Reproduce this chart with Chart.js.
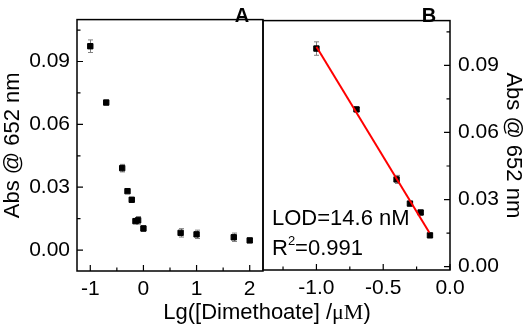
<!DOCTYPE html>
<html>
<head>
<meta charset="utf-8">
<script src="https://cdn.jsdelivr.net/npm/chart.js@4"></script>
<style>
  html, body { margin: 0; padding: 0; background: #fff; }
  #wrap { position: relative; width: 526px; height: 327px; }
  #wrap canvas { position: absolute; left: 0; top: 0; }
</style>
</head>
<body>
<div id="wrap">
  <canvas id="chartA" width="526" height="327"></canvas>
  <canvas id="chartB" width="526" height="327"></canvas>
</div>
<script>
// panel A: full range
const xA = [-1, -0.7, -0.4, -0.3, -0.22, -0.15, -0.1, 0, 0.7, 1, 1.7, 2];
const yA = [0.0973, 0.0704, 0.0391, 0.0281, 0.0240, 0.0138, 0.0142, 0.0103, 0.0082, 0.0075, 0.0061, 0.0046];
const errA = [0.003, 0.0008, 0.0018, 0.0008, 0.0008, 0.0012, 0.0018, 0.0013, 0.002, 0.002, 0.002, 0.001];

// panel B: linear range + fit
const xB = [-1, -0.7, -0.4, -0.3, -0.22, -0.15];
const yB = [0.0975, 0.0703, 0.0390, 0.0282, 0.0242, 0.0140];
const errB = [0.003, 0.0008, 0.0018, 0.0008, 0.0008, 0.0008];
const fitX = [-1, -0.155];
const fitY = [0.0983, 0.0153];

const xTicksA = [-1, 0, 1, 2];
const xMinorA = [-0.5, 0.5, 1.5];
const xTicksB = [-1, -0.5, 0];
const xMinorB = [-1.25, -0.75, -0.25];
const yTicks = [0, 0.03, 0.06, 0.09];
const yMinor = [0.015, 0.045, 0.075, 0.105];

Chart.defaults.font.family = "'Liberation Sans', Arial, sans-serif";
Chart.defaults.color = '#000';

const SANS = "'Liberation Sans', Arial, sans-serif";

function panelPlugin(p) {
  return {
    id: 'panel' + p.name,
    beforeDatasetsDraw(chart) {
      const ctx = chart.ctx, xs = chart.scales.x, ys = chart.scales.y;
      ctx.save();
      ctx.strokeStyle = '#808080';
      ctx.lineWidth = 1;
      p.xs.forEach((xv, i) => {
        const px = Math.round(xs.getPixelForValue(xv)) + 0.5;
        const y1 = ys.getPixelForValue(p.ys[i] + p.err[i]);
        const y2 = ys.getPixelForValue(p.ys[i] - p.err[i]);
        ctx.beginPath();
        ctx.moveTo(px, y1); ctx.lineTo(px, y2);
        ctx.moveTo(px - 2.5, y1); ctx.lineTo(px + 2.5, y1);
        ctx.moveTo(px - 2.5, y2); ctx.lineTo(px + 2.5, y2);
        ctx.stroke();
      });
      ctx.restore();
    },
    afterDraw(chart) {
      const ctx = chart.ctx, a = chart.chartArea, xs = chart.scales.x, ys = chart.scales.y;
      ctx.save();
      ctx.strokeStyle = '#000';
      ctx.lineWidth = 1.5;
      ctx.strokeRect(a.left, a.top, a.right - a.left, a.bottom - a.top);
      ctx.lineWidth = 1.2;
      ctx.beginPath();
      p.xMajor.forEach(v => { const px = xs.getPixelForValue(v); ctx.moveTo(px, a.bottom); ctx.lineTo(px, a.bottom - 6); });
      p.xMinor.forEach(v => { const px = xs.getPixelForValue(v); ctx.moveTo(px, a.bottom); ctx.lineTo(px, a.bottom - 3.5); });
      const yx = p.yRight ? a.right : a.left;
      const dir = p.yRight ? -1 : 1;
      yTicks.forEach(v => { const py = ys.getPixelForValue(v); ctx.moveTo(yx, py); ctx.lineTo(yx + dir * 6, py); });
      yMinor.forEach(v => { const py = ys.getPixelForValue(v); ctx.moveTo(yx, py); ctx.lineTo(yx + dir * 3.5, py); });
      ctx.stroke();
      // panel letter
      ctx.fillStyle = '#000';
      ctx.font = 'bold 20px ' + SANS;
      ctx.textAlign = 'center';
      ctx.textBaseline = 'middle';
      ctx.fillText(p.name, p.letterX, 16);
      if (p.draw) p.draw(ctx, a);
      ctx.restore();
    }
  };
}

function yScale(pos, width, pad) {
  return {
    type: 'linear',
    position: pos,
    min: pos === 'left' ? -0.01 : -0.0015,
    max: 0.11,
    afterBuildTicks: s => { s.ticks = yTicks.map(v => ({ value: v })); },
    afterFit: s => { s.width = width; },
    grid: { display: false, drawTicks: false },
    border: { display: false },
    ticks: { padding: pad, font: { size: 21 }, color: '#000', callback: v => v.toFixed(2) },
    title: { display: true, text: 'Abs @ 652 nm', font: { size: 22 }, color: '#000', padding: 0 }
  };
}

function xScale(min, max, ticks, dec, height) {
  return {
    type: 'linear',
    position: 'bottom',
    min: min,
    max: max,
    afterBuildTicks: s => { s.ticks = ticks.map(v => ({ value: v })); },
    afterFit: s => { s.height = height; },
    grid: { display: false, drawTicks: false },
    border: { display: false },
    ticks: { padding: 6, font: { size: 21 }, color: '#000', maxRotation: 0, callback: v => v.toFixed(dec) }
  };
}

const pointStyle = {
  pointStyle: 'rect',
  pointRadius: 3.8,
  pointHoverRadius: 3.8,
  backgroundColor: '#000',
  borderColor: '#000',
  borderWidth: 1
};

const chartA = new Chart(document.getElementById('chartA'), {
  type: 'scatter',
  data: {
    datasets: [Object.assign({ data: xA.map((x, i) => ({ x: x, y: yA[i] })) }, pointStyle)]
  },
  options: {
    responsive: false,
    animation: false,
    layout: { padding: { left: 0, right: 263, top: 3, bottom: 0 } },
    plugins: { legend: { display: false }, tooltip: { enabled: false } },
    scales: {
      x: xScale(-1.25, 2.25, xTicksA, 0, 56),
      y: yScale('left', 77, 7)
    }
  },
  plugins: [panelPlugin({ name: 'A', xs: xA, ys: yA, err: errA, xMajor: xTicksA, xMinor: xMinorA, yRight: false, letterX: 242 })]
});

const chartB = new Chart(document.getElementById('chartB'), {
  type: 'scatter',
  data: {
    datasets: [
      Object.assign({ data: xB.map((x, i) => ({ x: x, y: yB[i] })), order: 2 }, pointStyle),
      {
        data: fitX.map((x, i) => ({ x: x, y: fitY[i] })),
        showLine: true,
        borderColor: '#ff0000',
        borderWidth: 2,
        pointRadius: 0,
        order: 1
      }
    ]
  },
  options: {
    responsive: false,
    animation: false,
    layout: { padding: { left: 263, right: 0, top: 3, bottom: 0 } },
    plugins: { legend: { display: false }, tooltip: { enabled: false } },
    scales: {
      x: xScale(-1.4, 0, xTicksB, 1, 57),
      y: yScale('right', 76, 8)
    }
  },
  plugins: [panelPlugin({
    name: 'B', xs: xB, ys: yB, err: errB, xMajor: xTicksB, xMinor: xMinorB, yRight: true, letterX: 429,
    draw: (ctx, a) => {
      ctx.textAlign = 'left';
      ctx.textBaseline = 'middle';
      ctx.font = '22px ' + SANS;
      ctx.fillText('LOD=14.6 nM', 272, 219);
      let x = 272;
      ctx.fillText('R', x, 249);
      x += ctx.measureText('R').width;
      ctx.font = '13px ' + SANS;
      ctx.fillText('2', x, 241);
      x += ctx.measureText('2').width;
      ctx.font = '22px ' + SANS;
      ctx.fillText('=0.991', x, 249);
      // shared x-axis title
      const parts = [
        ['Lg([Dimethoate] /', '22px ' + SANS],
        ['\u03bcM', '22px "Liberation Serif", "Times New Roman", serif'],
        [')', '22px ' + SANS]
      ];
      let total = 0;
      parts.forEach(pt => { ctx.font = pt[1]; total += ctx.measureText(pt[0]).width; });
      let tx = 267 - total / 2;
      ctx.textBaseline = 'alphabetic';
      parts.forEach(pt => { ctx.font = pt[1]; ctx.fillText(pt[0], tx, 319); tx += ctx.measureText(pt[0]).width; });
    }
  })]
});
</script>
</body>
</html>
